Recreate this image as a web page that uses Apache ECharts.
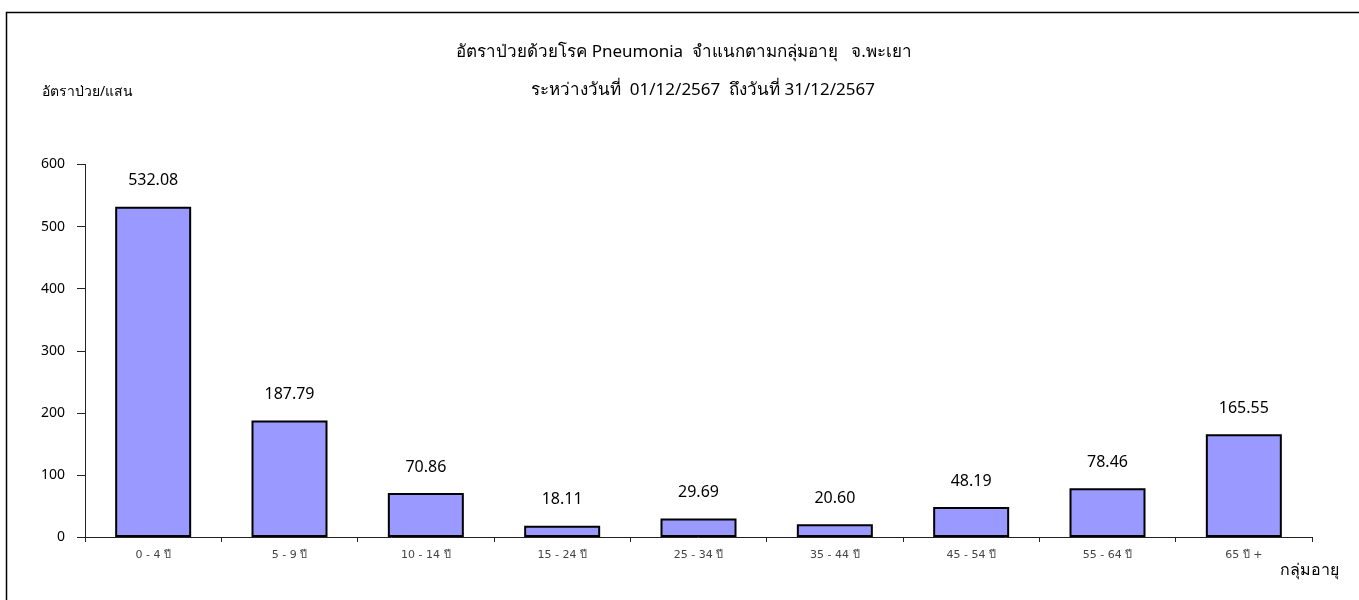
<!DOCTYPE html>
<html>
<head>
<meta charset="utf-8">
<script src="https://cdn.jsdelivr.net/npm/echarts@6/dist/echarts.min.js"></script>
<style>
html,body{margin:0;padding:0;background:#fff;overflow:hidden;}
#chart{width:1359px;height:600px;}
</style>
</head>
<body>
<div id="chart"></div>
<script>
const titleLine1 = 'อัตราป่วยด้วยโรค Pneumonia  จำแนกตามกลุ่มอายุ   จ.พะเยา';
const titleLine2 = 'ระหว่างวันที่  01/12/2567  ถึงวันที่ 31/12/2567';
const yAxisName = 'อัตราป่วย/แสน';
const xAxisName = 'กลุ่มอายุ';
const categories = ['0 - 4 ปี', '5 - 9 ปี', '10 - 14 ปี', '15 - 24 ปี', '25 - 34 ปี', '35 - 44 ปี', '45 - 54 ปี', '55 - 64 ปี', '65 ปี +'];
const rates = [532.08, 187.79, 70.86, 18.11, 29.69, 20.60, 48.19, 78.46, 165.55];
const yTicks = [0, 100, 200, 300, 400, 500, 600];

const FONT = "Tahoma, 'Noto Sans', 'DejaVu Sans', sans-serif";
const chart = echarts.init(document.getElementById('chart'));
chart.setOption({
  animation: false,
  textStyle: { fontFamily: FONT },
  graphic: [
    { type: 'rect', shape: { x: 6.5, y: 12.5, width: 3000, height: 3000 }, style: { fill: 'none', stroke: '#000', lineWidth: 1.5 }, silent: true, z: 100 },
    { type: 'text', x: 684, y: 52, style: { text: titleLine1, fontSize: 17, fill: '#000', fontFamily: FONT, align: 'center', verticalAlign: 'middle' } },
    { type: 'text', x: 703, y: 90, style: { text: titleLine2, fontSize: 17, fill: '#000', fontFamily: FONT, align: 'center', verticalAlign: 'middle' } },
    { type: 'text', x: 42, y: 92, style: { text: yAxisName, fontSize: 14, fill: '#000', fontFamily: FONT, align: 'left', verticalAlign: 'middle' } },
    { type: 'text', x: 1280, y: 570, style: { text: xAxisName, fontSize: 16, fill: '#000', fontFamily: FONT, align: 'left', verticalAlign: 'middle' } }
  ],
  grid: { left: 85, right: 47, top: 164.5, bottom: 63, containLabel: false },
  xAxis: {
    type: 'category',
    data: categories,
    axisLine: { lineStyle: { color: '#222', width: 1 } },
    axisTick: { show: true, length: 5, lineStyle: { color: '#222' } },
    axisLabel: { fontSize: 11, color: '#444', margin: 13, fontFamily: "'DejaVu Sans', sans-serif" }
  },
  yAxis: {
    type: 'value',
    min: yTicks[0],
    max: yTicks[yTicks.length - 1],
    interval: 100,
    axisLine: { show: true, lineStyle: { color: '#222', width: 1 } },
    axisTick: { show: true, inside: false, length: 8, lineStyle: { color: '#222' } },
    axisLabel: { fontSize: 14, color: '#000', margin: 20 },
    splitLine: { show: false }
  },
  series: [{
    type: 'bar',
    data: rates,
    barWidth: 76,
    itemStyle: { color: '#9999FF', borderColor: '#000', borderWidth: 2 },
    label: {
      show: true,
      position: 'top',
      distance: 18,
      fontSize: 16,
      color: '#000',
      formatter: p => p.value.toFixed(2)
    }
  }]
});
</script>
</body>
</html>
